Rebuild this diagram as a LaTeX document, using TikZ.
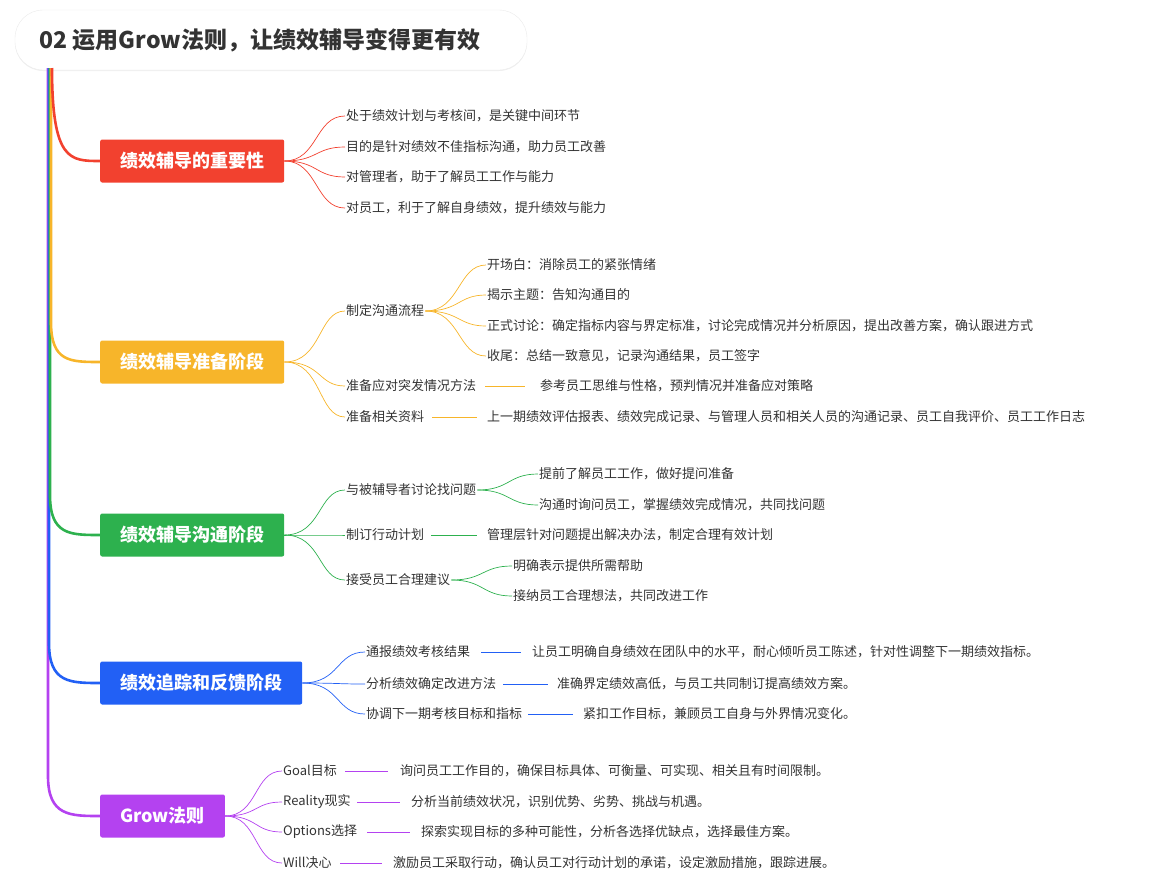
\documentclass[tikz,border=0pt]{standalone}
\usepackage{fontspec}
\setmainfont{Noto Sans CJK SC}
\usetikzlibrary{shadows}
\definecolor{cR}{HTML}{F2412F}
\definecolor{cO}{HTML}{F7B52A}
\definecolor{cG}{HTML}{2DB14E}
\definecolor{cB}{HTML}{2260F5}
\definecolor{cP}{HTML}{B442F0}
\definecolor{tx}{HTML}{333333}
\tikzset{
 mainbox/.style={fill=#1, text=white, font=\bfseries\fontsize{18}{20}\selectfont, anchor=west, minimum height=43pt, inner xsep=20pt, rounded corners=2pt},
 leaf/.style={anchor=west, text=tx, font=\fontsize{13}{15}\selectfont, inner sep=1pt},
 br/.style={draw=#1, line width=0.7pt},
 trunk/.style={draw=#1, line width=2.6pt},
}
\begin{document}
\begin{tikzpicture}[x=1pt,y=-1pt]
\useasboundingbox (0,0) rectangle (1150,889);
\node[draw=black!8, fill=white, rounded corners=28pt, minimum width=512pt, minimum height=60pt, drop shadow={opacity=0.12,shadow xshift=0pt,shadow yshift=-1pt}] (title) at (271,40) {};
\node[anchor=west, font=\bfseries\fontsize{23}{25}\selectfont, text=black!80] (tt) at (36,40) {02 运用Grow法则，让绩效辅导变得更有效};
% main nodes
\node[mainbox=cR] (m1) at (100,161) {绩效辅导的重要性};
\node[mainbox=cO] (m2) at (100,362) {绩效辅导准备阶段};
\node[mainbox=cG] (m3) at (100,535) {绩效辅导沟通阶段};
\node[mainbox=cB] (m4) at (100,683) {绩效追踪和反馈阶段};
\node[mainbox=cP] (m5) at (100,816) {Grow法则};
% trunk
\coordinate (t0) at (48,68);
\draw[trunk=cP] (t0) -- (48,776) .. controls (48,816) and (70,816) .. (m5.west);
\draw[trunk=cB] (49,68) -- (49,643) .. controls (49,683) and (70,683) .. (m4.west);
\draw[trunk=cG] (50,68) -- (50,495) .. controls (50,535) and (70,535) .. (m3.west);
\draw[trunk=cO] (51,68) -- (51,322) .. controls (51,362) and (70,362) .. (m2.west);
\draw[trunk=cR] (52,68) .. controls (52,161) and (70,161) .. (m1.west);
% node 1
\foreach \n/\y/\t in {a/116/处于绩效计划与考核间，是关键中间环节, b/147/目的是针对绩效不佳指标沟通，助力员工改善, c/177/对管理者，助于了解员工工作与能力, d/208/对员工，利于了解自身绩效，提升绩效与能力}{
 \node[leaf] (c1\n) at (345,\y) {\t};
 \draw[br=cR] (m1.east) .. controls (318,161) and (315,\y) .. (c1\n.west);
}
% node 2
\node[leaf] (c2a) at (345,311) {制定沟通流程};
\node[leaf] (c2b) at (345,386) {准备应对突发情况方法};
\node[leaf] (c2c) at (345,417) {准备相关资料};
\foreach \n in {a,b,c}{\draw[br=cO] (m2.east) .. controls (322,362) and (318,0|-c2\n.west) .. (c2\n.west);}
\foreach \n/\y/\t in {a/265/开场白：消除员工的紧张情绪, b/295/揭示主题：告知沟通目的, c/326/正式讨论：确定指标内容与界定标准，讨论完成情况并分析原因，提出改善方案，确认跟进方式, d/356/收尾：总结一致意见，记录沟通结果，员工签字}{
 \node[leaf] (d2\n) at (486,\y) {\t};
 \draw[br=cO] (c2a.east) .. controls (460,311) and (458,\y) .. (d2\n.west);
}
\node[leaf] (d2e) at (539,386) {参考员工思维与性格，预判情况并准备应对策略};
\draw[br=cO] (485,386) -- (525,386);
\node[leaf] (d2f) at (486,417) {上一期绩效评估报表、绩效完成记录、与管理人员和相关人员的沟通记录、员工自我评价、员工工作日志};
\draw[br=cO] (432,417) -- (477,417);
% node 3
\node[leaf] (c3a) at (345,490) {与被辅导者讨论找问题};
\node[leaf] (c3b) at (345,535) {制订行动计划};
\node[leaf] (c3c) at (345,580) {接受员工合理建议};
\foreach \n in {a,b,c}{\draw[br=cG] (m3.east) .. controls (322,535) and (318,0|-c3\n.west) .. (c3\n.west);}
\node[leaf] (d3a) at (538,474) {提前了解员工工作，做好提问准备};
\node[leaf] (d3b) at (538,505) {沟通时询问员工，掌握绩效完成情况，共同找问题};
\foreach \n in {a,b}{\draw[br=cG] (c3a.east) .. controls (510,490) and (508,0|-d3\n.west) .. (d3\n.west);}
\node[leaf] (d3c) at (486,535) {管理层针对问题提出解决办法，制定合理有效计划};
\draw[br=cG] (c3b.east) ++(6,0) -- (477,535);
\node[leaf] (d3d) at (512,566) {明确表示提供所需帮助};
\node[leaf] (d3e) at (512,596) {接纳员工合理想法，共同改进工作};
\foreach \n in {d,e}{\draw[br=cG] (c3c.east) .. controls (484,580) and (482,0|-d3\n.west) .. (d3\n.west);}
% node 4
\foreach \n/\y/\t/\la/\lb/\xx/\u in {a/652/通报绩效考核结果/481/521/531/让员工明确自身绩效在团队中的水平，耐心倾听员工陈述，针对性调整下一期绩效指标。, b/684/分析绩效确定改进方法/503/548/556/准确界定绩效高低，与员工共同制订提高绩效方案。, c/714/协调下一期考核目标和指标/528/573/582/紧扣工作目标，兼顾员工自身与外界情况变化。}{
 \node[leaf] (c4\n) at (365,\y) {\t};
 \draw[br=cB] (m4.east) .. controls (340,683) and (336,\y) .. (c4\n.west);
 \node[leaf] (d4\n) at (\xx,\y) {\u};
 \draw[br=cB] (\la,\y) -- (\lb,\y);
}
% node 5
\foreach \n/\y/\t/\la/\lb/\xx/\u in {a/771/Goal目标/345/388/399/询问员工工作目的，确保目标具体、可衡量、可实现、相关且有时间限制。, b/802/Reality现实/357/400/410/分析当前绩效状况，识别优势、劣势、挑战与机遇。, c/832/Options选择/367/410/420/探索实现目标的多种可能性，分析各选择优缺点，选择最佳方案。, d/863/Will决心/340/382/392/激励员工采取行动，确认员工对行动计划的承诺，设定激励措施，跟踪进展。}{
 \node[leaf] (c5\n) at (282,\y) {\t};
 \draw[br=cP] (m5.east) .. controls (258,816) and (254,\y) .. (c5\n.west);
 \node[leaf] (d5\n) at (\xx,\y) {\u};
 \draw[br=cP] (\la,\y) -- (\lb,\y);
}
\end{tikzpicture}
\end{document}
